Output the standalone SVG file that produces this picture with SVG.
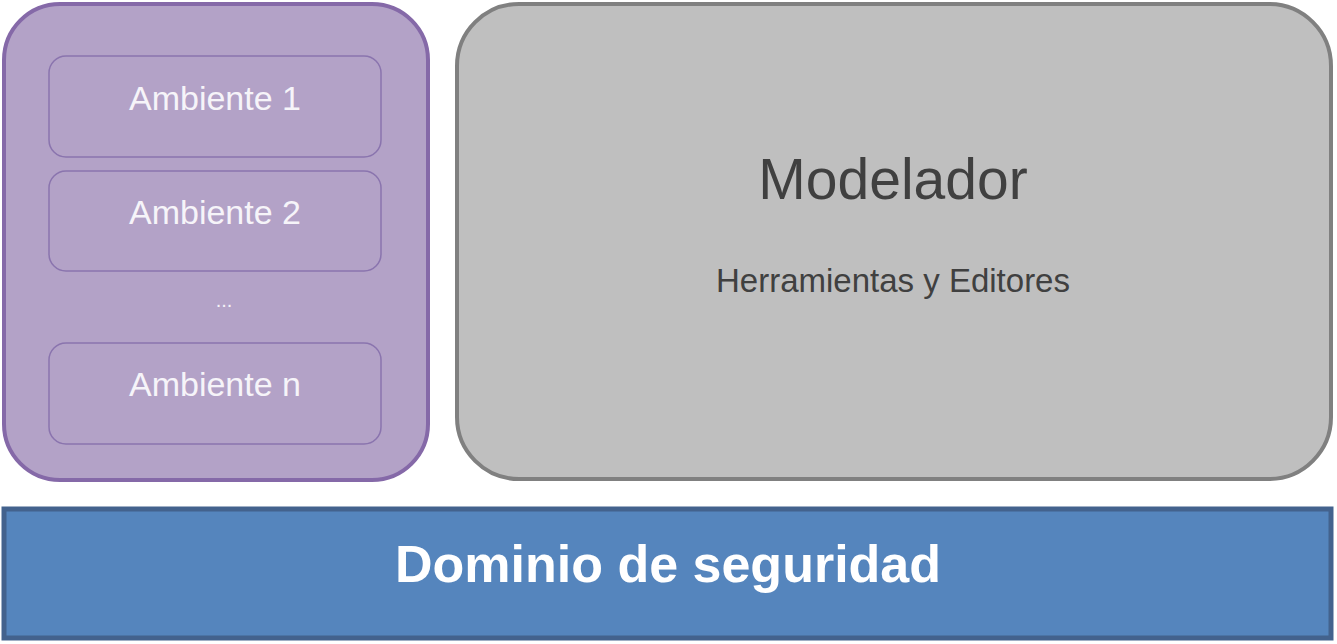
<svg xmlns="http://www.w3.org/2000/svg" width="1337" height="644" viewBox="0 0 1337 644">
<style>
.amb rect{fill:#b3a2c7;stroke:#8a74ae;stroke-width:1.5}
.amb text{font-family:"Liberation Sans",Arial,sans-serif;font-size:34px;fill:#f6f4f9;text-anchor:middle}
.t{font-family:"Liberation Sans",Arial,sans-serif;text-anchor:middle}
</style>
<g id="ambientes">
<rect x="4" y="4" width="424" height="476" rx="56" fill="#b3a2c7" stroke="#8569a8" stroke-width="4"/>
</g>
<g id="ambiente1" class="amb"><rect x="49" y="56" width="332" height="101" rx="17"/><text x="215" y="110">Ambiente 1</text></g>
<g id="ambiente2" class="amb"><rect x="49" y="171" width="332" height="100" rx="17"/><text x="215" y="224">Ambiente 2</text></g>
<g id="dots"><text class="t" x="224" y="307" font-size="20" fill="#f4f2f8">...</text></g>
<g id="ambienten" class="amb"><rect x="49" y="343" width="332" height="101" rx="17"/><text x="215" y="396">Ambiente n</text></g>
<g id="modelador">
<rect x="457" y="4" width="874" height="475" rx="62" fill="#bfbfbf" stroke="#808080" stroke-width="4"/>
<text class="t" x="893" y="199" font-size="57" fill="#404040">Modelador</text>
<text class="t" x="893" y="292" font-size="33" fill="#404040">Herramientas y Editores</text>
</g>
<g id="dominio">
<rect x="4" y="509" width="1327" height="129" fill="#5585bd" stroke="#43628d" stroke-width="5"/>
<text class="t" x="668" y="582" font-size="52" font-weight="bold" fill="#ffffff">Dominio de seguridad</text>
</g>
<g id="connectors"/>
</svg>
